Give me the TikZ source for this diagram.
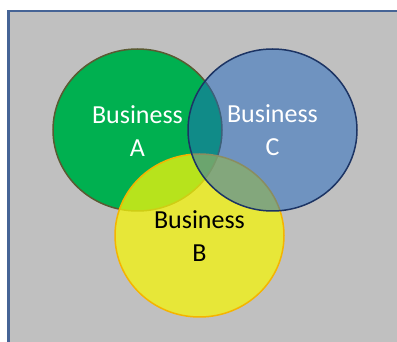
\documentclass[tikz,border=0pt]{standalone}
\usepackage{fontspec}
\setmainfont{Carlito}
\definecolor{bggray}{RGB}{192,192,192}
\definecolor{frameblue}{RGB}{70,100,150}
\definecolor{cgreen}{RGB}{0,176,80}
\definecolor{lgreen}{RGB}{90,90,50}
\definecolor{cyellow}{RGB}{245,245,11}
\definecolor{lyellow}{RGB}{245,180,0}
\definecolor{cblue}{RGB}{32,104,192}
\definecolor{lblue}{RGB}{28,52,100}
\tikzset{
  lbl/.style={font=\fontsize{26}{33}\selectfont, inner sep=0pt, anchor=base},
  circA/.style={fill=cgreen, draw=lgreen, line width=1.5pt},
  circB/.style={fill=cyellow, fill opacity=0.75, draw=lyellow, draw opacity=1, line width=1.5pt},
  circC/.style={fill=cblue, fill opacity=0.5, draw=lblue, draw opacity=1, line width=1.5pt}
}
\begin{document}
\begin{tikzpicture}[x=1pt,y=-1pt]
\useasboundingbox (0,0) rectangle (397,342);
\fill[white] (0,0) rectangle (397,342);
\fill[bggray] (8.7,11) rectangle (397,342);
\draw[line width=2.5pt, draw=frameblue] (8.7,342) -- (8.7,11) -- (397,11);
\draw[circA] (137.5,130) ellipse [x radius=84.5pt, y radius=81pt];
\draw[circB] (199.5,235.5) ellipse [x radius=84.5pt, y radius=81.5pt];
\draw[circC] (272.5,130) ellipse [x radius=84.5pt, y radius=81pt];
\node[lbl, text=white] (a1) at (137.5,123.5) {Business};
\node[lbl, text=white] (a2) at (137.5,156.5) {A};
\node[lbl, text=black] (b1) at (199.5,228.5) {Business};
\node[lbl, text=black] (b2) at (199.5,261.5) {B};
\node[lbl, text=white] (c1) at (272.5,123) {Business};
\node[lbl, text=white] (c2) at (272.5,156) {C};
\end{tikzpicture}
\end{document}
